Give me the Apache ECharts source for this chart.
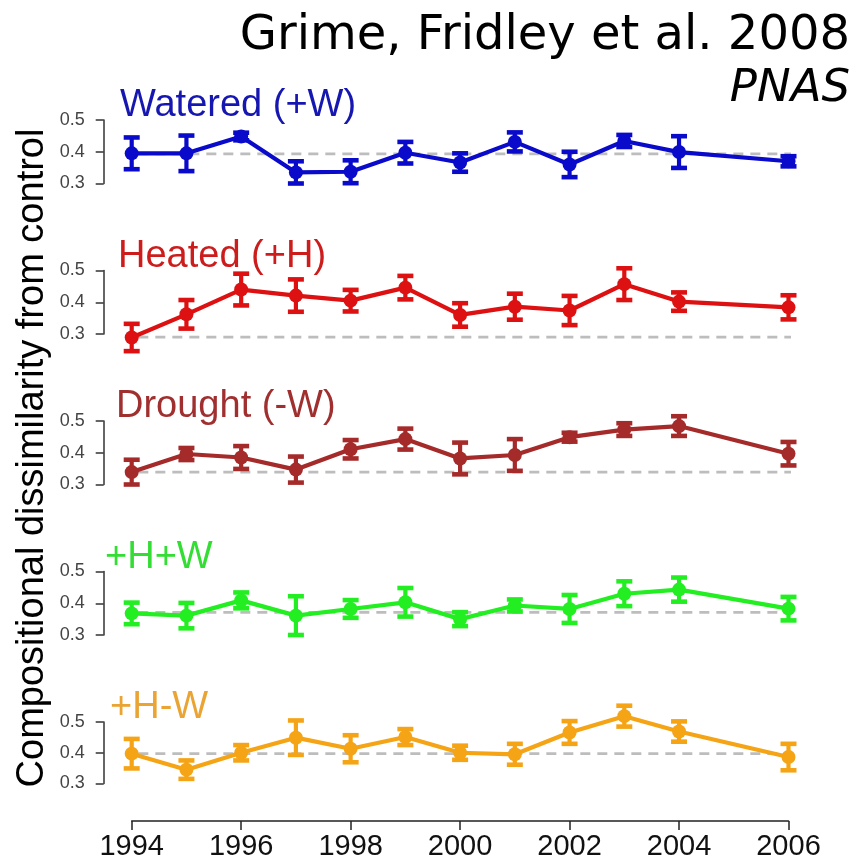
<!DOCTYPE html>
<html>
<head>
<meta charset="utf-8">
<script src="https://cdn.jsdelivr.net/npm/echarts@6/dist/echarts.min.js"></script>
<style>
  html, body { margin: 0; padding: 0; background: #fff; }
  #chart { width: 857px; height: 861px; }
</style>
</head>
<body>
<div id="chart"></div>
<script>
// Survey years (no 2005 sample)
const years = [1994, 1995, 1996, 1997, 1998, 1999, 2000, 2001, 2002, 2003, 2004, 2006];

// Mean dissimilarity from control and its standard error, per treatment
const wateredMean = [0.395, 0.395, 0.448, 0.335, 0.337, 0.397, 0.366, 0.431, 0.360, 0.434, 0.399, 0.370];
const wateredErr  = [0.050, 0.056, 0.012, 0.035, 0.036, 0.034, 0.029, 0.030, 0.040, 0.019, 0.050, 0.016];

const heatedMean = [0.289, 0.362, 0.440, 0.421, 0.405, 0.446, 0.360, 0.386, 0.374, 0.457, 0.402, 0.384];
const heatedErr  = [0.043, 0.045, 0.050, 0.051, 0.034, 0.037, 0.037, 0.041, 0.046, 0.050, 0.029, 0.038];

const droughtMean = [0.339, 0.396, 0.385, 0.347, 0.411, 0.443, 0.382, 0.393, 0.449, 0.473, 0.484, 0.397];
const droughtErr  = [0.039, 0.019, 0.036, 0.041, 0.029, 0.033, 0.050, 0.050, 0.014, 0.020, 0.031, 0.037];

const hwMean = [0.368, 0.361, 0.409, 0.361, 0.382, 0.403, 0.350, 0.393, 0.382, 0.430, 0.443, 0.383];
const hwErr  = [0.034, 0.040, 0.025, 0.061, 0.028, 0.045, 0.022, 0.019, 0.044, 0.039, 0.038, 0.037];

const hdMean = [0.397, 0.345, 0.400, 0.449, 0.413, 0.451, 0.400, 0.395, 0.466, 0.519, 0.469, 0.386];
const hdErr  = [0.048, 0.030, 0.025, 0.056, 0.044, 0.026, 0.023, 0.034, 0.037, 0.034, 0.033, 0.043];

// Reference (1994) level drawn as a dashed guide in each panel
const baselines = [0.393, 0.290, 0.339, 0.371, 0.397];

// Y tick values shared by every panel
const yTicks = [0.3, 0.4, 0.5];

const panelNames = ['Watered (+W)', 'Heated (+H)', 'Drought (-W)', '+H+W', '+H-W'];
const panelColors = ['#0a0acb', '#dd1111', '#a52a2a', '#22ee22', '#f5a416'];
const titleColors = ['#1616b0', '#cc1c1c', '#a03030', '#33dd33', '#eaa434'];
const means = [wateredMean, heatedMean, droughtMean, hwMean, hdMean];
const errs = [wateredErr, heatedErr, droughtErr, hwErr, hdErr];

const chart = echarts.init(document.getElementById('chart'), null, { renderer: 'canvas' });

const plotLeft = 131.7;
const plotRight = 857 - 788.5;
const panelTop0 = 120;
const panelStep = 150.5;
const panelHeight = 63.5;
const titleX = [115, 113, 111, 100, 105];

const grids = [], xAxes = [], yAxes = [], series = [], titles = [];

function makeErrorBar(color) {
  return function (params, api) {
    const x = api.value(0);
    const pLo = api.coord([x, api.value(1)]);
    const pHi = api.coord([x, api.value(2)]);
    const hw = 8;
    return {
      type: 'group',
      children: [
        { type: 'line', shape: { x1: pHi[0], y1: pHi[1], x2: pLo[0], y2: pLo[1] }, style: { stroke: color, lineWidth: 4.2 } },
        { type: 'line', shape: { x1: pHi[0] - hw, y1: pHi[1], x2: pHi[0] + hw, y2: pHi[1] }, style: { stroke: color, lineWidth: 4.6 } },
        { type: 'line', shape: { x1: pLo[0] - hw, y1: pLo[1], x2: pLo[0] + hw, y2: pLo[1] }, style: { stroke: color, lineWidth: 4.6 } }
      ]
    };
  };
}

for (let i = 0; i < 5; i++) {
  const top = panelTop0 + panelStep * i;
  const last = i === 4;
  grids.push({ left: plotLeft, right: plotRight, top: top, height: panelHeight, containLabel: false });
  xAxes.push({
    type: 'value', gridIndex: i, min: 1994, max: 2006, interval: 2,
    show: last,
    offset: 37.5,
    axisLine: { show: true, lineStyle: { color: '#222', width: 1.5 } },
    axisTick: { show: true, length: 9, inside: false, lineStyle: { color: '#222', width: 1.5 } },
    axisLabel: {
      show: true, color: '#111', fontSize: 29, fontFamily: 'Liberation Sans, Arial, sans-serif',
      margin: 11, formatter: v => String(v)
    },
    splitLine: { show: false }
  });
  yAxes.push({
    type: 'value', gridIndex: i, min: yTicks[0], max: yTicks[yTicks.length - 1], interval: 0.1,
    offset: 28,
    axisLine: { show: true, lineStyle: { color: '#333', width: 1.5 } },
    axisTick: { show: true, length: 8, lineStyle: { color: '#333', width: 1.5 } },
    axisLabel: {
      color: '#444', fontSize: 18, fontFamily: 'Liberation Sans, Arial, sans-serif',
      margin: 19, formatter: v => v.toFixed(1)
    },
    splitLine: { show: false }
  });

  const color = panelColors[i];
  // dashed reference level
  series.push({
    type: 'line', xAxisIndex: i, yAxisIndex: i, clip: false, silent: true,
    symbol: 'none', z: 1,
    lineStyle: { color: '#bdbdbd', width: 2.8, type: [10, 7] },
    data: [[1993.5, baselines[i]], [2006.45, baselines[i]]]
  });
  // error bars
  series.push({
    type: 'custom', xAxisIndex: i, yAxisIndex: i, clip: false, z: 3,
    renderItem: makeErrorBar(color),
    data: years.map((y, k) => [y, means[i][k] - errs[i][k], means[i][k] + errs[i][k]])
  });
  // mean trajectory
  series.push({
    type: 'line', xAxisIndex: i, yAxisIndex: i, clip: false, z: 4,
    symbol: 'circle', symbolSize: 14,
    itemStyle: { color: color },
    lineStyle: { color: color, width: 4.2 },
    data: years.map((y, k) => [y, means[i][k]])
  });

  titles.push({
    text: panelNames[i], left: titleX[i], top: top - 38,
    textStyle: { color: titleColors[i], fontSize: 38, fontWeight: 'normal', fontFamily: 'Liberation Sans, Arial, sans-serif' }
  });
}

titles.push({
  text: 'Grime, Fridley et al. 2008', right: 2, top: 8,
  textStyle: { color: '#000', fontSize: 48, fontWeight: 'normal', fontFamily: 'DejaVu Sans, sans-serif' }
});
titles.push({
  text: 'PNAS', right: 2, top: 62,
  textStyle: { color: '#000', fontSize: 45, fontWeight: 'normal', fontStyle: 'italic', fontFamily: 'DejaVu Sans, sans-serif' }
});

chart.setOption({
  animation: false,
  backgroundColor: '#ffffff',
  title: titles,
  grid: grids,
  xAxis: xAxes,
  yAxis: yAxes,
  series: series,
  graphic: [{
    type: 'text',
    x: 33, y: 458,
    rotation: Math.PI / 2,
    style: {
      text: 'Compositional dissimilarity from control',
      fill: '#000',
      font: '38px "Liberation Sans", Arial, sans-serif',
      align: 'center',
      verticalAlign: 'middle'
    }
  }]
});
</script>
</body>
</html>
